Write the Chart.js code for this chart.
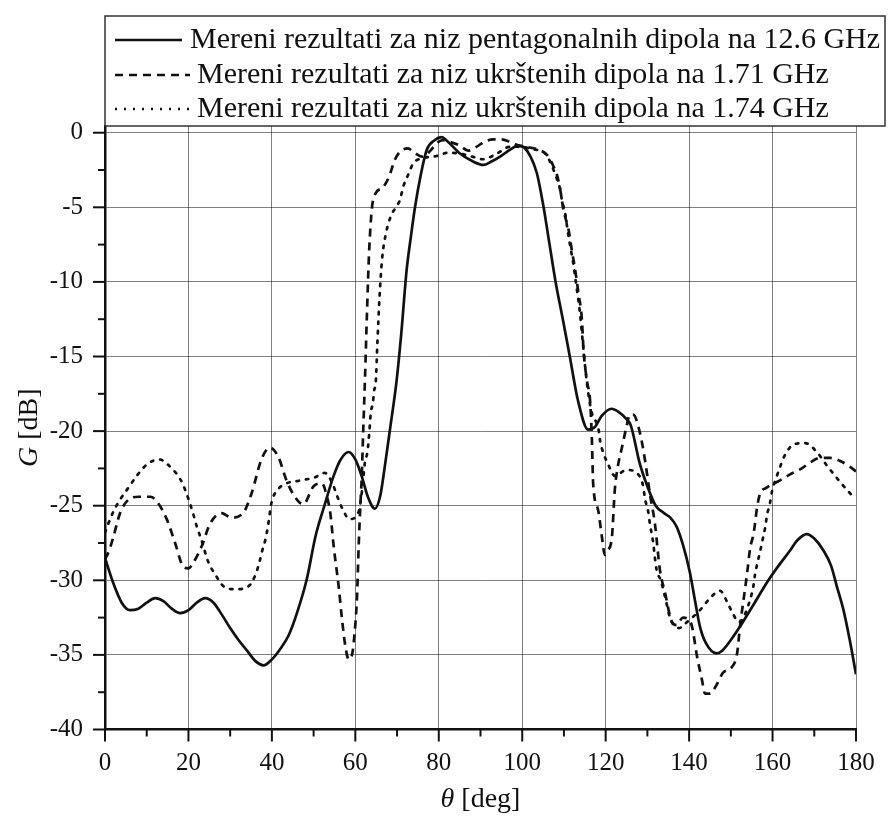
<!DOCTYPE html>
<html lang="sr">
<head>
<meta charset="utf-8">
<title>Mereni rezultati</title>
<script src="https://cdn.jsdelivr.net/npm/chart.js@4/dist/chart.umd.min.js"></script>
<style>
    html, body { margin: 0; padding: 0; background: #fff; }
    #wrap { width: 888px; height: 817px; }
</style>
</head>
<body>
<div id="wrap"><canvas id="gainChart" width="888" height="817"></canvas></div>
<script>
"use strict";

// podaci ocitani sa slike: ugao [deg] i pojacanje [dB]
const thetaSolid = [0, 2, 4, 6, 8, 10, 12, 14, 16, 18, 20, 22, 24, 26, 28, 30, 32, 34, 36, 38, 40, 42, 44, 46, 48.3, 50.5, 52.7, 54.8, 56.5, 58.4, 60, 61.5, 63, 64.7, 66, 67, 68.3, 69.9, 71, 72.3, 73.3, 74.3, 75.7, 77.1, 79, 80.7, 82, 85, 88, 90.7, 92.5, 94.7, 97, 99.1, 100.5, 102, 103.5, 105, 106.5, 108, 109.8, 111.4, 113.4, 115.8, 117.5, 119, 121.4, 123, 125, 126, 128.2, 130, 132, 134, 135.5, 137, 138.5, 140.2, 141.5, 142.6, 144, 146.6, 148, 150, 152.2, 155.5, 159, 161.5, 164.2, 166, 168.2, 170, 172.2, 174, 175.4, 177, 178.5, 180];
const gainSolid = [-28.5, -30.2, -31.5, -32.0, -31.9, -31.5, -31.2, -31.4, -31.9, -32.2, -32.0, -31.5, -31.2, -31.5, -32.3, -33.2, -34.0, -34.7, -35.4, -35.7, -35.3, -34.6, -33.7, -32.2, -30.0, -27.0, -24.9, -23.0, -21.9, -21.4, -21.9, -23.0, -24.4, -25.2, -24.3, -22.5, -19.9, -16.6, -13.5, -9.2, -7.0, -5.0, -2.8, -1.16, -0.5, -0.3, -0.55, -1.38, -1.9, -2.16, -1.95, -1.6, -1.15, -0.87, -1.0, -1.6, -2.7, -4.8, -7.4, -10.0, -12.6, -15.0, -18.0, -19.9, -19.7, -19.0, -18.5, -18.7, -19.2, -19.6, -22.2, -23.7, -25.0, -25.5, -25.8, -26.4, -27.6, -29.5, -31.5, -33.1, -34.2, -34.9, -34.7, -34.0, -33.1, -31.6, -30.0, -29.0, -28.0, -27.3, -26.9, -27.2, -28.0, -29.0, -30.4, -32.0, -34.0, -36.3];

const thetaDashed = [0, 1, 2, 3.6, 5.6, 8, 10.9, 12.4, 14.8, 16.8, 18.8, 20, 21.2, 23.2, 25.2, 27.9, 30.3, 33.1, 35.1, 37.5, 39.5, 41.5, 43.5, 45.5, 47.5, 50, 52, 53.1, 54, 54.8, 56, 56.8, 57.6, 58.4, 59.2, 59.6, 60.4, 60.8, 61.2, 61.5, 61.9, 62.3, 62.8, 63.3, 64, 65, 66.5, 68, 69.5, 70.7, 72.6, 74, 76, 78, 79.5, 81, 83, 85, 87, 89, 91, 93, 95, 97, 99, 102, 104, 106, 107.4, 108.3, 109.1, 109.9, 111.1, 111.9, 112.7, 113.5, 114.3, 114.7, 115.5, 116.3, 116.7, 117, 118.2, 119.1, 119.8, 120.5, 121.5, 122.2, 122.9, 123.9, 125, 125.8, 126.6, 128.2, 129.4, 130.6, 131.8, 133, 134.2, 135.9, 137, 138.5, 139.7, 140.7, 141.9, 143.1, 143.8, 145, 146.6, 148.1, 150.3, 151.5, 152.2, 152.7, 153.4, 154, 154.6, 155.5, 156.3, 157, 158.5, 161.8, 164.2, 167, 169, 171.4, 173.8, 176.2, 178.6, 180];
const gainDashed = [-28.6, -28.0, -27.1, -25.5, -24.6, -24.4, -24.4, -24.7, -25.9, -27.5, -29.1, -29.2, -28.8, -27.7, -26.2, -25.5, -25.8, -25.5, -24.2, -21.9, -21.1, -21.7, -23.3, -24.4, -24.9, -23.7, -23.5, -24.3, -25.5, -27.7, -30.4, -32.6, -34.4, -35.3, -35.0, -34.2, -31.1, -27.7, -25.0, -23.3, -19.9, -16.6, -12.0, -8.0, -5.0, -4.0, -3.7, -3.0, -1.8, -1.27, -1.05, -1.3, -1.6, -1.2, -0.7, -0.5, -0.65, -0.85, -1.2, -0.95, -0.6, -0.45, -0.45, -0.6, -0.85, -1.0, -1.15, -1.5, -2.2, -2.8, -3.8, -5.2, -6.5, -7.9, -9.2, -10.8, -12.5, -14.6, -16.6, -18.1, -20.6, -23.5, -25.3, -27.1, -28.3, -28.0, -27.1, -23.9, -22.4, -21.1, -19.7, -18.9, -18.9, -20.1, -21.9, -24.2, -26.2, -29.3, -30.8, -32.8, -33.0, -32.5, -32.6, -33.1, -35.1, -36.7, -37.6, -37.6, -37.0, -36.2, -35.8, -34.9, -33.1, -32.0, -30.6, -29.3, -27.9, -26.8, -25.1, -24.2, -23.8, -23.3, -22.9, -22.5, -22.1, -21.8, -21.8, -22.0, -22.4, -22.7];

const thetaDotted = [0, 0.8, 2, 3.6, 5.6, 7.6, 10.2, 13, 16, 18, 19.3, 20.3, 21.2, 22, 23, 24.8, 26.4, 28.4, 31.2, 34.4, 36.1, 37, 37.7, 38.5, 39.1, 39.9, 41.5, 43.5, 47, 50.3, 52.7, 54.5, 55.7, 56.9, 58.6, 60.8, 61.6, 62.3, 62.9, 63.4, 63.7, 64.2, 64.5, 64.9, 65.3, 65.8, 66.4, 67.3, 68.5, 69.7, 70.7, 71.5, 72.7, 73.9, 76.3, 79.5, 82.3, 85, 88, 90.7, 93.9, 97.1, 99.5, 102.3, 105.5, 107.1, 107.9, 109.1, 109.5, 110.3, 110.7, 111.5, 112.2, 113, 113.8, 114.5, 115.2, 115.8, 116.7, 117.4, 118.3, 118.7, 119.5, 120.7, 122.2, 125, 127.8, 129, 129.4, 130.2, 130.6, 131.4, 131.8, 132.2, 133.2, 134.4, 135.4, 137.6, 139.5, 142.6, 145, 147.4, 149.2, 150.6, 152, 153.5, 154.6, 155.4, 155.8, 156.4, 157, 157.6, 158.2, 158.7, 159.4, 159.9, 160.8, 161.8, 162.8, 165, 167.8, 170.6, 173, 175, 177.4, 179];
const gainDotted = [-26.8, -26.2, -25.4, -24.6, -23.8, -23.0, -22.2, -21.9, -22.5, -23.2, -24.0, -24.8, -25.6, -26.4, -27.2, -28.8, -29.6, -30.4, -30.6, -30.4, -29.6, -28.8, -28.0, -27.2, -26.3, -24.8, -23.9, -23.5, -23.3, -23.1, -22.8, -23.5, -24.4, -25.2, -25.9, -25.4, -24.0, -22.1, -21.4, -19.9, -18.8, -18.1, -17.3, -16.7, -14.0, -11.0, -8.5, -6.8, -5.6, -5.0, -4.5, -3.6, -2.8, -2.05, -1.7, -1.56, -1.34, -1.4, -1.6, -1.78, -1.4, -0.94, -0.94, -1.1, -1.4, -2.2, -2.8, -3.8, -4.5, -5.4, -6.2, -7.6, -8.7, -10.3, -12.0, -14.0, -16.0, -17.4, -18.8, -19.2, -19.9, -20.7, -21.5, -22.3, -23.0, -22.6, -22.9, -23.7, -24.5, -25.4, -26.2, -27.5, -28.5, -29.3, -30.0, -31.3, -32.5, -33.2, -32.8, -32.0, -31.2, -30.7, -31.5, -32.3, -32.8, -32.2, -31.3, -30.4, -29.6, -28.8, -28.1, -27.3, -26.5, -25.6, -24.8, -24.0, -23.2, -22.4, -21.7, -20.9, -20.8, -21.4, -22.3, -23.0, -23.8, -24.3];

const xTicks = [0, 20, 40, 60, 80, 100, 120, 140, 160, 180];
const yTicks = [-40, -35, -30, -25, -20, -15, -10, -5, 0];

const legendLabels = [
    'Mereni rezultati za niz pentagonalnih dipola na 12.6 GHz',
    'Mereni rezultati za niz ukrštenih dipola na 1.71 GHz',
    'Mereni rezultati za niz ukrštenih dipola na 1.74 GHz'
];

const serif = '"Liberation Serif", "Times New Roman", serif';

/**
 * Spaja dva niza u tacke {x, y}
 */
function toPoints(xs, ys) {
    return xs.map((x, i) => ({ x: x, y: ys[i] }));
}

/**
 * Crta podeoke (glavne i pomocne) na osama
 */
const tickPlugin = {
    id: 'axisTicks',
    afterDraw(chart) {
        const ctx = chart.ctx;
        const x = chart.scales.x;
        const y = chart.scales.y;
        const area = chart.chartArea;
        ctx.save();
        ctx.strokeStyle = '#111';
        ctx.lineWidth = 2;
        for (let v = 0; v <= 180; v += 10) {
            const px = x.getPixelForValue(v);
            const len = v % 20 === 0 ? 12 : 7;
            ctx.beginPath();
            ctx.moveTo(px, area.bottom);
            ctx.lineTo(px, area.bottom + len);
            ctx.stroke();
        }
        for (let v = -40; v <= 0; v += 2.5) {
            const py = y.getPixelForValue(v);
            const len = v % 5 === 0 ? 12 : 7;
            ctx.beginPath();
            ctx.moveTo(area.left, py);
            ctx.lineTo(area.left - len, py);
            ctx.stroke();
        }
        ctx.restore();
    }
};

/**
 * Ispisuje tekst gde je prvi deo kurzivom
 */
function mixedText(ctx, italicPart, rest, cx, cy, size) {
    ctx.font = 'italic ' + size + 'px ' + serif;
    const w1 = ctx.measureText(italicPart).width;
    ctx.font = size + 'px ' + serif;
    const w2 = ctx.measureText(rest).width;
    const start = cx - (w1 + w2) / 2;
    ctx.textAlign = 'left';
    ctx.font = 'italic ' + size + 'px ' + serif;
    ctx.fillText(italicPart, start, cy);
    ctx.font = size + 'px ' + serif;
    ctx.fillText(rest, start + w1, cy);
}

/**
 * Crta legendu u okviru iznad grafika i nazive osa
 */
const legendPlugin = {
    id: 'boxLegend',
    afterDraw(chart) {
        const ctx = chart.ctx;
        const area = chart.chartArea;
        const rows = [40, 75, 109];
        const dashes = [[], [8, 6], [2, 7]];

        ctx.save();
        ctx.strokeStyle = '#333';
        ctx.lineWidth = 1.5;
        ctx.strokeRect(area.left, 16, 780, area.top - 16);

        ctx.font = '30px ' + serif;
        ctx.fillStyle = '#111';
        ctx.textBaseline = 'middle';
        const sx = 690 / ctx.measureText(legendLabels[0]).width;

        legendLabels.forEach((label, i) => {
            ctx.setLineDash(dashes[i]);
            ctx.lineWidth = 2.5;
            ctx.strokeStyle = '#111';
            ctx.beginPath();
            ctx.moveTo(115, rows[i]);
            ctx.lineTo(i === 0 ? 182 : 190, rows[i]);
            ctx.stroke();

            ctx.save();
            ctx.translate(i === 0 ? 190 : 197, rows[i]);
            ctx.scale(sx, 1);
            ctx.fillText(label, 0, 0);
            ctx.restore();
        });
        ctx.setLineDash([]);

        // naziv x ose
        mixedText(ctx, 'θ ', '[deg]', (area.left + area.right) / 2, 800, 28);

        // naziv y ose
        ctx.save();
        ctx.translate(30, (area.top + area.bottom) / 2);
        ctx.rotate(-Math.PI / 2);
        mixedText(ctx, 'G ', '[dB]', 0, 0, 28);
        ctx.restore();

        ctx.restore();
    }
};

window.onload = () => {
    createChart();
}

/**
 * Pravi linijski grafik sa tri merenja
 */
function createChart() {
    const ctx = document.getElementById('gainChart').getContext('2d');
    const common = {
        borderColor: '#111',
        borderWidth: 2.7,
        pointRadius: 0,
        fill: false,
        cubicInterpolationMode: 'monotone'
    };
    new Chart(ctx, {
        type: 'line',
        data: {
            datasets: [
                Object.assign({ label: legendLabels[0], data: toPoints(thetaSolid, gainSolid) }, common),
                Object.assign({ label: legendLabels[1], data: toPoints(thetaDashed, gainDashed), borderDash: [8, 6] }, common),
                Object.assign({ label: legendLabels[2], data: toPoints(thetaDotted, gainDotted), borderDash: [2.5, 7], borderCapStyle: 'round' }, common)
            ]
        },
        options: {
            responsive: false,
            animation: false,
            layout: {
                padding: { top: 126, right: 32, left: 0, bottom: 0 }
            },
            plugins: {
                legend: { display: false },
                tooltip: { enabled: false }
            },
            scales: {
                x: {
                    type: 'linear',
                    min: 0,
                    max: 180,
                    afterBuildTicks: scale => { scale.ticks = xTicks.map(v => ({ value: v })); },
                    afterFit: scale => {
                        scale.height = 87.5;
                        scale.paddingLeft = 0;
                        scale.paddingRight = 0;
                    },
                    grid: { color: 'rgba(0,0,0,0.5)', lineWidth: 1, drawTicks: false },
                    border: { color: '#111', width: 2.5 },
                    ticks: {
                        color: '#111',
                        padding: 19,
                        maxRotation: 0,
                        font: { family: serif, size: 25 }
                    }
                },
                y: {
                    type: 'linear',
                    min: -40,
                    max: 0.45,
                    afterBuildTicks: scale => { scale.ticks = yTicks.map(v => ({ value: v })); },
                    afterFit: scale => {
                        scale.width = 105;
                        scale.paddingTop = 0;
                        scale.paddingBottom = 0;
                    },
                    grid: { color: 'rgba(0,0,0,0.5)', lineWidth: 1, drawTicks: false },
                    border: { color: '#111', width: 2.5 },
                    ticks: {
                        color: '#111',
                        padding: 22,
                        font: { family: serif, size: 25 }
                    }
                }
            }
        },
        plugins: [tickPlugin, legendPlugin]
    });
}
</script>
</body>
</html>
